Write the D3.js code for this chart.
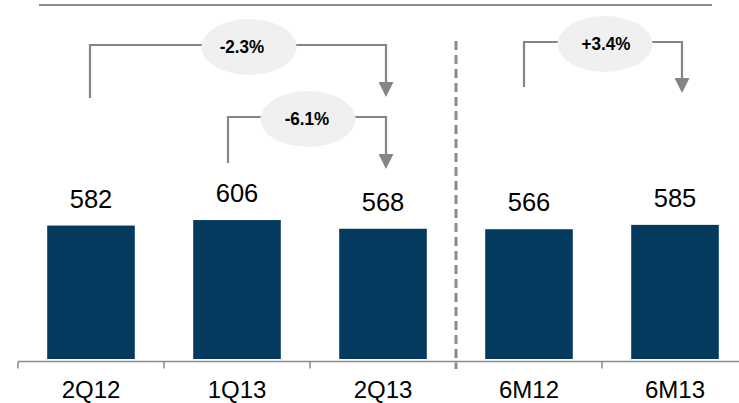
<!DOCTYPE html>
<html><head><meta charset="utf-8">
<script src="https://cdn.jsdelivr.net/npm/d3@7"></script>
<style>html,body{margin:0;padding:0;background:#fff;}svg{display:block;}</style>
</head><body>
<svg id="c" width="739" height="403"></svg>
<script>
const categories = ["2Q12", "1Q13", "2Q13", "6M12", "6M13"];
const values = [582, 606, 568, 566, 585];
const changeLabels = ["-2.3%", "-6.1%", "+3.4%"];
const changeFrom = ["2Q12", "1Q13", "6M12"];
const changeTo = ["2Q13", "2Q13", "6M13"];

const svg = d3.select("#c");
const font = "Arial, 'Liberation Sans', sans-serif";
const grey = "#858585";
const barColor = "#033a5e";

const x = d3.scaleBand().domain(categories).range([18, 748]).paddingInner(0.4).paddingOuter(0.2);
const y = d3.scaleLinear().domain([0, 1400]).range([359, 38]);

// top rule
svg.append("line").attr("x1", 39).attr("x2", 712).attr("y1", 5).attr("y2", 5)
  .attr("stroke", "#8c8c8c").attr("stroke-width", 2);

// bars
svg.selectAll("rect.bar").data(values).enter().append("rect")
  .attr("class", "bar")
  .attr("x", (d, i) => x(categories[i]))
  .attr("width", x.bandwidth())
  .attr("y", d => y(d))
  .attr("height", d => y(0) - y(d))
  .attr("fill", barColor);

// value labels
svg.selectAll("text.val").data(values).enter().append("text")
  .attr("class", "val")
  .attr("x", (d, i) => x(categories[i]) + x.bandwidth() / 2)
  .attr("y", d => y(d) - 18)
  .attr("text-anchor", "middle")
  .attr("font-family", font).attr("font-size", 25.5).attr("fill", "#000")
  .text(d => d);

// x axis
const axis = d3.axisBottom(x).tickSize(7).tickSizeOuter(0).tickFormat(() => "");
const gx = svg.append("g").attr("transform", "translate(0,361.5)").call(axis);
gx.select(".domain").attr("stroke", "#8a8a8a").attr("stroke-width", 1.5).attr("d", "M18,0H739");
gx.selectAll(".tick line").remove();
const tickXs = categories.map(c => x(c) - x.step() * 0.2);
gx.selectAll("line.tk").data(tickXs).enter().append("line")
  .attr("class", "tk").attr("x1", d => d).attr("x2", d => d).attr("y1", 0).attr("y2", 7)
  .attr("stroke", "#8a8a8a").attr("stroke-width", 1.5);

// category labels
svg.selectAll("text.cat").data(categories).enter().append("text")
  .attr("class", "cat")
  .attr("x", d => x(d) + x.bandwidth() / 2)
  .attr("y", 398)
  .attr("text-anchor", "middle")
  .attr("font-family", font).attr("font-size", 24).attr("fill", "#000")
  .text(d => d);

// dashed separator
const sepX = x("6M12") - x.step() * 0.2;
svg.append("line").attr("x1", sepX).attr("x2", sepX).attr("y1", 41).attr("y2", 369)
  .attr("stroke", "#8c8c8c").attr("stroke-width", 3).attr("stroke-dasharray", "9,5");

// change brackets (layout constants)
const layout = [
  {dl: -1, dr: 3, top: 45, leftBottom: 98, tip: 97, ecx: 249, tcx: 242},
  {dl: -9, dr: 3, top: 117, leftBottom: 163, tip: 169, ecx: 308, tcx: 307},
  {dl: -5, dr: 7, top: 42, leftBottom: 87, tip: 93, ecx: 605, tcx: 606}
];
changeLabels.forEach((lab, i) => {
  const L = layout[i];
  const xl = x(changeFrom[i]) + x.bandwidth() / 2 + L.dl;
  const xr = x(changeTo[i]) + x.bandwidth() / 2 + L.dr;
  const headH = 15, headW = 15;
  const g = svg.append("g");
  g.append("path")
    .attr("d", `M${xl},${L.leftBottom}V${L.top}H${xr}V${L.tip - headH + 1}`)
    .attr("fill", "none").attr("stroke", grey).attr("stroke-width", 2.2);
  g.append("path")
    .attr("d", `M${xr - headW / 2},${L.tip - headH}L${xr + headW / 2},${L.tip - headH}L${xr},${L.tip}Z`)
    .attr("fill", grey);
  g.append("ellipse").attr("cx", L.ecx).attr("cy", L.top + 2).attr("rx", 47.5).attr("ry", 28)
    .attr("fill", "#f0f0f0");
  g.append("text").attr("x", L.tcx).attr("y", L.top + 8.5)
    .attr("text-anchor", "middle")
    .attr("font-family", font).attr("font-size", 18).attr("font-weight", "bold").attr("fill", "#000")
    .attr("transform", `translate(${L.tcx},0) scale(0.95,1) translate(${-L.tcx},0)`)
    .text(lab);
});
</script>
</body></html>
